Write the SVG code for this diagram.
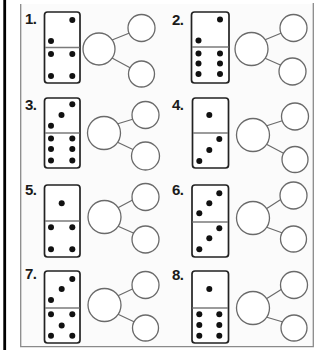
<svg xmlns="http://www.w3.org/2000/svg" xmlns:xlink="http://www.w3.org/1999/xlink" width="326" height="350" viewBox="0 0 326 350">
<style>
.lbl{font-family:"Liberation Sans","DejaVu Sans",sans-serif;font-weight:bold;font-size:15px;fill:#1a1a1a;letter-spacing:-0.6px}
.dom{fill:#fff;stroke:#222;stroke-width:1.7}
.div{stroke:#7a7a7a;stroke-width:1.6}
.pip{fill:#111}
.cir{fill:#fff;stroke:#6a6a6a;stroke-width:1.3}
.con{stroke:#6a6a6a;stroke-width:1.2;fill:none}
</style>
<rect x="0" y="0" width="326" height="350" fill="#fff"/>
<rect x="3.3" y="0" width="2.8" height="350" fill="#000"/>
<g id="sheet">
<rect x="20.7" y="4" width="292.6" height="342.7" fill="#fbfbfb" stroke="none"/>
<path d="M20.7 4V346.7H313.3V3" fill="none" stroke="#8a8a8a" stroke-width="1.3"/>
</g>
<g id="connectors">
<path class="con" d="M112 40L129.5 33M112 58L130.5 68"/>
<path class="con" d="M264.5 40L281.5 33M264.5 58L281.5 65.5"/>
<path class="con" d="M117 124L133.5 119M117 142L134 150"/>
<path class="con" d="M266 126L283 120.5M266 144L284 153.5"/>
<path class="con" d="M117.5 208L133.5 199.5M117.5 226L134.5 233.5"/>
<path class="con" d="M266 209L281.5 199M266 227L282.5 233"/>
<path class="con" d="M117.5 296L133.5 288.5M117.5 314L134.5 322"/>
<path class="con" d="M266 299L282 289M266 317L283 322"/>
</g>
<g id="ex1">
<text class="lbl" x="25" y="24">1.</text>
<rect class="dom" x="44.5" y="12" width="35.5" height="71" rx="3"/>
<line class="div" x1="45" y1="47.5" x2="79.5" y2="47.5"/>
<circle class="pip" cx="72.3" cy="20" r="3"/><circle class="pip" cx="51" cy="41" r="3"/>
<circle class="pip" cx="51" cy="54" r="3"/><circle class="pip" cx="72.3" cy="54" r="3"/>
<circle class="pip" cx="51" cy="76" r="3"/><circle class="pip" cx="72.3" cy="76" r="3"/>
</g>
<g id="ex1-whole"><circle class="cir" cx="99" cy="49" r="16"/></g>
<g id="ex1-part-a"><circle class="cir" cx="141.5" cy="28" r="13.5"/></g>
<g id="ex1-part-b"><circle class="cir" cx="141.5" cy="74" r="13"/></g>
<g id="ex2">
<text class="lbl" x="172" y="24.5">2.</text>
<rect class="dom" x="191.5" y="12" width="37.5" height="71" rx="3"/>
<line class="div" x1="192" y1="47" x2="228.5" y2="47"/>
<circle class="pip" cx="220" cy="19.5" r="3"/><circle class="pip" cx="198.5" cy="40.5" r="3"/>
<circle class="pip" cx="198.5" cy="53.5" r="3"/><circle class="pip" cx="220" cy="53.5" r="3"/>
<circle class="pip" cx="198.5" cy="63.5" r="3"/><circle class="pip" cx="220" cy="63.5" r="3"/>
<circle class="pip" cx="198.5" cy="74" r="3"/><circle class="pip" cx="220" cy="74" r="3"/>
</g>
<g id="ex2-whole"><circle class="cir" cx="251.5" cy="49" r="16.5"/></g>
<g id="ex2-part-a"><circle class="cir" cx="293.5" cy="28" r="13.5"/></g>
<g id="ex2-part-b"><circle class="cir" cx="292.5" cy="71.5" r="13.5"/></g>
<g id="ex3">
<text class="lbl" x="25" y="110">3.</text>
<rect class="dom" x="44.5" y="98" width="35.5" height="70" rx="3"/>
<line class="div" x1="45" y1="133" x2="79.5" y2="133"/>
<circle class="pip" cx="51" cy="125.7" r="3"/><circle class="pip" cx="61.5" cy="115" r="3"/><circle class="pip" cx="72.3" cy="104.3" r="3"/>
<circle class="pip" cx="51" cy="138.5" r="3"/><circle class="pip" cx="72.3" cy="138.5" r="3"/>
<circle class="pip" cx="51" cy="149" r="3"/><circle class="pip" cx="72.3" cy="149" r="3"/>
<circle class="pip" cx="51" cy="160.5" r="3"/><circle class="pip" cx="72.3" cy="160.5" r="3"/>
</g>
<g id="ex3-whole"><circle class="cir" cx="104" cy="133" r="16.5"/></g>
<g id="ex3-part-a"><circle class="cir" cx="145.5" cy="115" r="13.5"/></g>
<g id="ex3-part-b"><circle class="cir" cx="145.5" cy="156" r="14"/></g>
<g id="ex4">
<text class="lbl" x="172" y="110">4.</text>
<rect class="dom" x="192.5" y="98" width="36" height="70" rx="3"/>
<line class="div" x1="193" y1="133" x2="228" y2="133"/>
<circle class="pip" cx="209.3" cy="115" r="3"/>
<circle class="pip" cx="199.3" cy="161" r="3"/><circle class="pip" cx="209.3" cy="150" r="3"/><circle class="pip" cx="219.3" cy="139" r="3"/>
</g>
<g id="ex4-whole"><circle class="cir" cx="253" cy="135" r="16.5"/></g>
<g id="ex4-part-a"><circle class="cir" cx="295" cy="116.5" r="13.5"/></g>
<g id="ex4-part-b"><circle class="cir" cx="295" cy="159.5" r="13"/></g>
<g id="ex5">
<text class="lbl" x="25" y="194.5">5.</text>
<rect class="dom" x="44.5" y="185" width="35.5" height="72" rx="3"/>
<line class="div" x1="45" y1="221" x2="79.5" y2="221"/>
<circle class="pip" cx="61.7" cy="203.3" r="3"/>
<circle class="pip" cx="51" cy="227.3" r="3"/><circle class="pip" cx="72.3" cy="227.3" r="3"/>
<circle class="pip" cx="51" cy="249.3" r="3"/><circle class="pip" cx="72.3" cy="249.3" r="3"/>
</g>
<g id="ex5-whole"><circle class="cir" cx="104.5" cy="217" r="16.5"/></g>
<g id="ex5-part-a"><circle class="cir" cx="145.5" cy="197" r="13.5"/></g>
<g id="ex5-part-b"><circle class="cir" cx="145.5" cy="239.5" r="13.5"/></g>
<g id="ex6">
<text class="lbl" x="172" y="194.5">6.</text>
<rect class="dom" x="192" y="185" width="36.5" height="72" rx="3"/>
<line class="div" x1="192.5" y1="222" x2="228" y2="222"/>
<circle class="pip" cx="199.3" cy="213.3" r="3"/><circle class="pip" cx="209.3" cy="203.3" r="3"/><circle class="pip" cx="219.3" cy="193.3" r="3"/>
<circle class="pip" cx="199.3" cy="249.3" r="3"/><circle class="pip" cx="209.3" cy="238.3" r="3"/><circle class="pip" cx="219.3" cy="228.3" r="3"/>
</g>
<g id="ex6-whole"><circle class="cir" cx="253" cy="218" r="16.5"/></g>
<g id="ex6-part-a"><circle class="cir" cx="293.5" cy="195.5" r="13.5"/></g>
<g id="ex6-part-b"><circle class="cir" cx="293.5" cy="239" r="13"/></g>
<g id="ex7">
<text class="lbl" x="25" y="278.5">7.</text>
<rect class="dom" x="44.5" y="271" width="35.5" height="72" rx="3"/>
<line class="div" x1="45" y1="308" x2="79.5" y2="308"/>
<circle class="pip" cx="51" cy="300" r="3"/><circle class="pip" cx="61.7" cy="289" r="3"/><circle class="pip" cx="72.3" cy="279" r="3"/>
<circle class="pip" cx="51" cy="314.3" r="3"/><circle class="pip" cx="72.3" cy="314.3" r="3"/>
<circle class="pip" cx="61.7" cy="325.5" r="3"/>
<circle class="pip" cx="51" cy="335.7" r="3"/><circle class="pip" cx="72.3" cy="335.7" r="3"/>
</g>
<g id="ex7-whole"><circle class="cir" cx="104.5" cy="305" r="16.5"/></g>
<g id="ex7-part-a"><circle class="cir" cx="145.5" cy="285" r="13.5"/></g>
<g id="ex7-part-b"><circle class="cir" cx="145.5" cy="328" r="13"/></g>
<g id="ex8">
<text class="lbl" x="172" y="279.5">8.</text>
<rect class="dom" x="192" y="271" width="36.5" height="72" rx="3"/>
<line class="div" x1="192.5" y1="308" x2="228" y2="308"/>
<circle class="pip" cx="209.3" cy="289" r="3"/>
<circle class="pip" cx="199.3" cy="314.3" r="3"/><circle class="pip" cx="219.3" cy="314.3" r="3"/>
<circle class="pip" cx="199.3" cy="325" r="3"/><circle class="pip" cx="219.3" cy="325" r="3"/>
<circle class="pip" cx="199.3" cy="335.7" r="3"/><circle class="pip" cx="219.3" cy="335.7" r="3"/>
</g>
<g id="ex8-whole"><circle class="cir" cx="253" cy="308" r="16.5"/></g>
<g id="ex8-part-a"><circle class="cir" cx="294" cy="285" r="13.5"/></g>
<g id="ex8-part-b"><circle class="cir" cx="294" cy="328" r="13"/></g>
</svg>
